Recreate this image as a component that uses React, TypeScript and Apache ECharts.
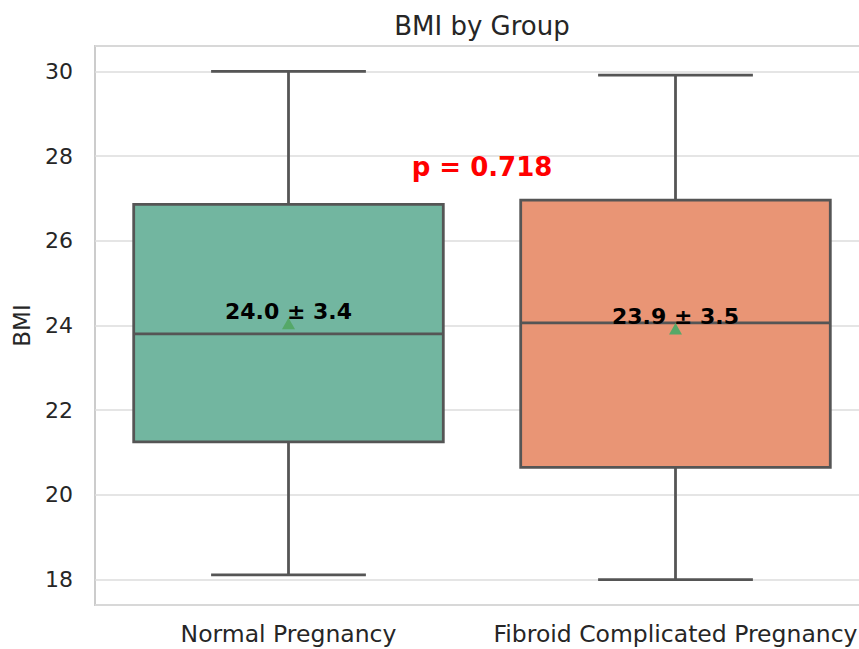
import React, { useEffect, useRef } from "react";
import * as echarts from "echarts";

const categories = ["Normal Pregnancy", "Fibroid Complicated Pregnancy"];
const whiskerLow = [18.11, 18.0];
const q1 = [21.25, 20.65];
const median = [23.8, 24.06];
const q3 = [26.86, 26.96];
const whiskerHigh = [30.0, 29.91];
const means = [24.04, 23.92];
const sds = [3.4, 3.5];
const pValue = "p = 0.718";
const boxColors = ["#72b6a0", "#e99575"];

const FONT = "DejaVu Sans";
const LINE = "#555555";

export default function App() {
  const ref = useRef<HTMLDivElement>(null);
  useEffect(() => {
    if (!ref.current) return;
    const chart = echarts.init(ref.current, null, { renderer: "svg" });
    const data = categories.map((_, i) => [
      i,
      whiskerLow[i],
      q1[i],
      median[i],
      q3[i],
      whiskerHigh[i],
      means[i],
      sds[i],
    ]);
    chart.setOption({
      animation: false,
      backgroundColor: "#ffffff",
      title: {
        text: "BMI by Group",
        left: 477,
        textAlign: "center",
        top: 8,
        textStyle: { fontFamily: FONT, fontSize: 26, fontWeight: "normal", color: "#262626" },
      },
      grid: {
        left: 95,
        top: 46,
        width: 774,
        height: 559,
        show: true,
        borderColor: "#cccccc",
        borderWidth: 2,
        backgroundColor: "transparent",
      },
      xAxis: {
        type: "category",
        data: categories,
        axisLine: { show: false },
        axisTick: { show: false },
        splitLine: { show: false },
        axisLabel: { fontFamily: FONT, fontSize: 23.5, color: "#262626", margin: 17, interval: 0 },
      },
      yAxis: {
        type: "value",
        min: 17.4,
        max: 30.6,
        splitNumber: 6,
        name: "BMI",
        nameLocation: "middle",
        nameGap: 62,
        nameTextStyle: { fontFamily: FONT, fontSize: 23, color: "#262626" },
        axisLine: { show: false },
        axisTick: { show: false },
        axisLabel: {
          fontFamily: FONT,
          fontSize: 22,
          color: "#262626",
          margin: 22,
          showMinLabel: false,
          showMaxLabel: false,
        },
        splitLine: { show: true, lineStyle: { color: "#dddddd", width: 1.6 } },
      },
      series: [
        {
          type: "custom",
          encode: { x: 0, y: [1, 2, 3, 4, 5, 6] },
          data,
          z: 3,
          renderItem: (params: any, api: any) => {
            const ci = api.value(0);
            const lo = api.coord([ci, api.value(1)]);
            const b1 = api.coord([ci, api.value(2)]);
            const md = api.coord([ci, api.value(3)]);
            const b3 = api.coord([ci, api.value(4)]);
            const hi = api.coord([ci, api.value(5)]);
            const mn = api.coord([ci, api.value(6)]);
            const band = api.size([1, 0])[0];
            const x = lo[0];
            const hb = band * 0.4;
            const hc = band * 0.2;
            const ls = { stroke: LINE, lineWidth: 2.8, fill: null };
            const label = `${Number(api.value(6)).toFixed(1)} ± ${Number(api.value(7)).toFixed(1)}`;
            return {
              type: "group",
              children: [
                { type: "line", shape: { x1: x, y1: b3[1], x2: x, y2: hi[1] }, style: ls },
                { type: "line", shape: { x1: x, y1: b1[1], x2: x, y2: lo[1] }, style: ls },
                { type: "line", shape: { x1: x - hc, y1: hi[1], x2: x + hc, y2: hi[1] }, style: ls },
                { type: "line", shape: { x1: x - hc, y1: lo[1], x2: x + hc, y2: lo[1] }, style: ls },
                {
                  type: "rect",
                  shape: { x: x - hb, y: b3[1], width: hb * 2, height: b1[1] - b3[1] },
                  style: { fill: boxColors[params.dataIndex], stroke: LINE, lineWidth: 2.8 },
                },
                { type: "line", shape: { x1: x - hb, y1: md[1], x2: x + hb, y2: md[1] }, style: ls },
                {
                  type: "polygon",
                  shape: { points: [[mn[0] - 6.5, mn[1] + 5.5], [mn[0] + 6.5, mn[1] + 5.5], [mn[0], mn[1] - 6]] },
                  style: { fill: "#55a868" },
                },
                {
                  type: "text",
                  x: mn[0],
                  y: mn[1] - 12,
                  style: {
                    text: label,
                    fontFamily: FONT,
                    fontSize: 22,
                    fontWeight: "bold",
                    fill: "#000000",
                    align: "center",
                    verticalAlign: "middle",
                  },
                },
              ],
            };
          },
        },
      ],
      graphic: [
        {
          type: "text",
          x: 482,
          y: 167,
          style: {
            text: pValue,
            fontFamily: FONT,
            fontSize: 26,
            fontWeight: "bold",
            fill: "#ff0000",
            align: "center",
            verticalAlign: "middle",
          },
          z: 10,
        },
      ],
    });
    return () => chart.dispose();
  }, []);
  return (
    <div
      style={{
        position: "absolute",
        left: 0,
        top: 0,
        width: 859,
        height: 649,
        overflow: "hidden",
        background: "#ffffff",
      }}
    >
      <div ref={ref} style={{ width: 900, height: 649 }} />
    </div>
  );
}
